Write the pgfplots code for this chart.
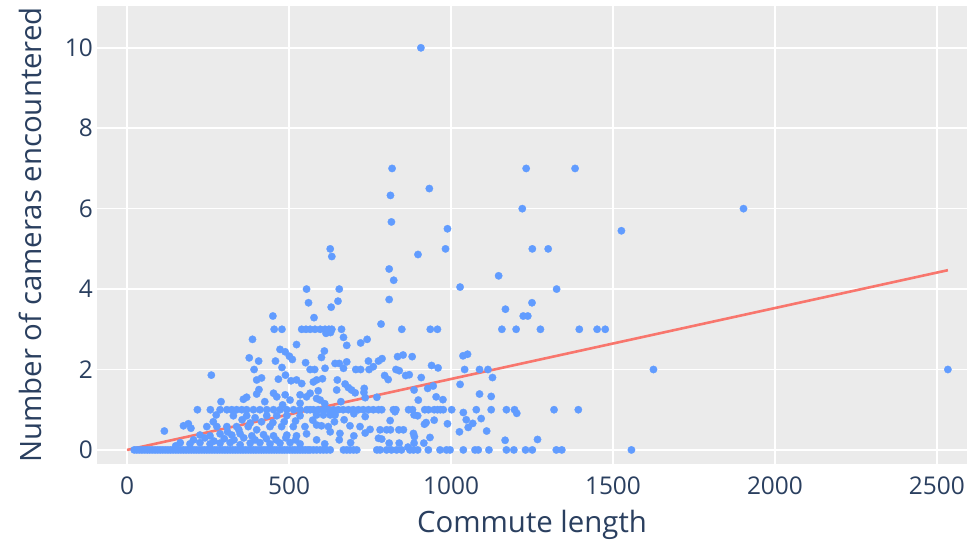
\documentclass[border=0pt]{standalone}
\usepackage{pgfplots}
\pgfplotsset{compat=1.18}
\usepackage{pgfplotstable}
\usepackage{fontspec}
\setmainfont{Open Sans}

\definecolor{txt}{HTML}{2A3F5F}
\definecolor{bg}{HTML}{EBEBEB}
\definecolor{dot}{HTML}{619CFF}
\definecolor{fit}{HTML}{F8766D}

% commute length vs. number of cameras encountered
\pgfplotstableread{
x y
907 10
818 7
1232 7
1383 7
933 6.5
813 6.33
1220 6
1903 6
816 5.67
989 5.5
1526 5.45
983 5
1251 5
1300 5
627 5
632 4.81
898 4.86
809 4.5
823 4.22
1147 4.33
1028 4.05
1326 4
554 4
655 4
809 3.74
1250 3.66
560 3.66
651 3.7
630 3.55
1168 3.5
1223 3.33
1237 3.33
450 3.33
577 3.29
784 3.13
848 3
936 3
958 3
1157 3
1201 3
1276 3
1396 3
1451 3
1476 3
454 3
478 3
539 3
552 3
565 3
580 3
596 3
611 3
623 3
632 3
662 3
614 2.9
628 2.92
668 2.8
678 2.6
721 2.66
741 2.75
387 2.75
523 2.62
472 2.5
488 2.44
501 2.33
510 2.25
609 2.46
600 2.3
745 2.21
776 2.21
787 2.27
835 2.32
852 2.36
880 2.32
1037 2.34
1051 2.38
377 2.29
406 2.21
458 2.21
551 2.17
2534 2
1625 2
940 2.1
960 2.04
1042 2
1088 2
1114 2
830 2
840 1.97
392 2
478 2.05
565 2
579 2
611 2.03
642 2.15
655 2.15
668 2.03
678 2.19
706 2
721 2
747 2
760 2.07
1128 1.8
795 1.85
806 1.75
860 1.85
871 1.87
908 1.8
260 1.86
489 1.86
415 1.79
400 1.74
467 1.76
506 1.72
523 1.74
539 1.65
585 1.74
603 1.77
575 1.69
649 1.74
673 1.64
683 1.55
693 1.49
704 1.42
647 1.49
732 1.53
731 1.43
1028 1.63
886 1.49
928 1.53
945 1.59
407 1.5
400 1.39
369 1.31
359 1.26
452 1.41
462 1.32
488 1.37
503 1.24
534 1.37
554 1.32
565 1.41
590 1.47
585 1.28
596 1.24
735 1.3
771 1.31
1088 1.39
1124 1.33
954 1.32
975 1.25
899 1.24
534 1.16
290 1.2
425 1.2
480 1.12
610 1.15
660 1.2
217 1
257 1
287 1
308 1
323 1
338 1
354 1
369 1
390 1
410 1
431 1
452 1
472 1
493 1
514 1
534 1
555 1
565 1
575 1
590 1
606 1
621 1
637 1
652 1
667 1
683 1
698 1
714 1
729 1
745 1
760 1
776 1
786 1
822 1
830 1
869 1
881 1
919 1
930 1
948 1
958 1
967 1
976 1
1002 1
1078 1
1124 1
1171 1
1196 1
1318 1
1393 1
827 0.95
886 0.87
897 0.85
1038 0.93
1203 0.91
585 0.87
606 0.87
627 0.87
642 0.87
735 0.83
700 0.9
328 0.85
369 0.85
431 0.85
462 0.85
493 0.85
534 0.85
275 0.87
395 0.8
355 0.75
812 0.73
948 0.74
1047 0.75
1067 0.66
1093 0.78
1053 0.56
989 0.65
918 0.64
923 0.68
573 0.74
266 0.7
415 0.7
450 0.68
485 0.7
520 0.72
380 0.67
640 0.7
670 0.75
585 0.62
600 0.6
621 0.58
688 0.6
719 0.58
174 0.6
189 0.65
197 0.54
246 0.58
277 0.58
308 0.58
338 0.58
374 0.58
441 0.58
477 0.58
513 0.58
549 0.58
400 0.5
345 0.5
750 0.51
781 0.5
801 0.5
813 0.5
839 0.5
853 0.5
115 0.47
310 0.45
627 0.45
657 0.41
700 0.35
735 0.42
884 0.41
887 0.33
1026 0.45
1110 0.47
935 0.31
225 0.37
256 0.35
287 0.4
323 0.37
349 0.4
385 0.35
421 0.38
452 0.35
493 0.37
523 0.35
554 0.4
240 0.3
300 0.28
360 0.3
430 0.28
490 0.3
776 0.29
786 0.27
655 0.25
585 0.25
610 0.15
690 0.18
1167 0.24
1267 0.26
205 0.25
268 0.22
330 0.25
395 0.25
460 0.25
520 0.25
164 0.18
194 0.15
225 0.18
256 0.15
287 0.17
318 0.18
349 0.13
380 0.17
410 0.18
441 0.15
472 0.17
503 0.18
534 0.15
150 0.1
809 0.17
840 0.17
886 0.17
916 0.17
867 0.07
22 0
30 0
38 0
46 0
54 0
62 0
70 0
78 0
86 0
94 0
102 0
110 0
118 0
126 0
134 0
142 0
150 0
158 0
166 0
174 0
182 0
190 0
198 0
206 0
214 0
222 0
230 0
238 0
246 0
254 0
262 0
270 0
278 0
286 0
294 0
302 0
310 0
318 0
326 0
334 0
342 0
350 0
358 0
366 0
374 0
382 0
390 0
398 0
406 0
414 0
422 0
430 0
438 0
446 0
454 0
462 0
470 0
478 0
486 0
494 0
502 0
510 0
518 0
526 0
534 0
542 0
550 0
558 0
565 0
575 0
585 0
596 0
606 0
616 0
627 0
668 0
678 0
688 0
699 0
709 0
771 0
781 0
801 0
816 0
832 0
847 0
873 0
884 0
897 0
930 0
966 0
986 0
997 0
1038 0
1074 0
1084 0
1117 0
1171 0
1194 0
1230 0
1251 0
1325 0
1342 0
1557 0
}\commute

\begin{document}
\begin{tikzpicture}
\useasboundingbox (0,0) rectangle (967bp,543bp);
\begin{axis}[
  at={(97bp,79bp)}, anchor=south west,
  scale only axis,
  width=870bp, height=458bp,
  xmin=-93, xmax=2593,
  ymin=-0.35, ymax=11.04,
  xtick={0,500,...,2500},
  ytick={0,2,...,10},
  axis background/.style={fill=bg},
  axis line style={draw=none},
  major tick length=0pt,
  grid=major,
  major grid style={white, line width=1.6bp},
  extra x ticks={0}, extra x tick labels={},
  extra y ticks={0}, extra y tick labels={},
  extra tick style={major grid style={white, line width=2.6bp}},
  /pgf/number format/assume math mode=true,
  /pgf/number format/1000 sep={},
  tick label style={font=\fontsize{24.5}{24.5}\selectfont, text=txt},
  xticklabel style={inner sep=0pt, anchor=north, yshift=-13bp},
  yticklabel style={inner sep=0pt, anchor=east, xshift=-4bp},
  xlabel={Commute length},
  ylabel={Number of cameras encountered},
  xlabel style={font=\fontsize{29.5}{29.5}\selectfont, text=txt,
    at={(rel axis cs:0.5,0)}, anchor=center, yshift=-61bp},
  ylabel style={font=\fontsize{29.5}{29.5}\selectfont, text=txt,
    at={(rel axis cs:0,0.5)}, anchor=center, yshift=67bp},
  clip=true,
]
\addplot[only marks, mark=*, color=dot, mark size=3.7bp,
  mark options={fill=dot, draw=dot, line width=0.3bp}] table[x=x, y=y] {\commute};
\addplot[fit, line width=2.6bp] coordinates {(0,0) (2534,4.47)};
\end{axis}
\end{tikzpicture}
\end{document}
